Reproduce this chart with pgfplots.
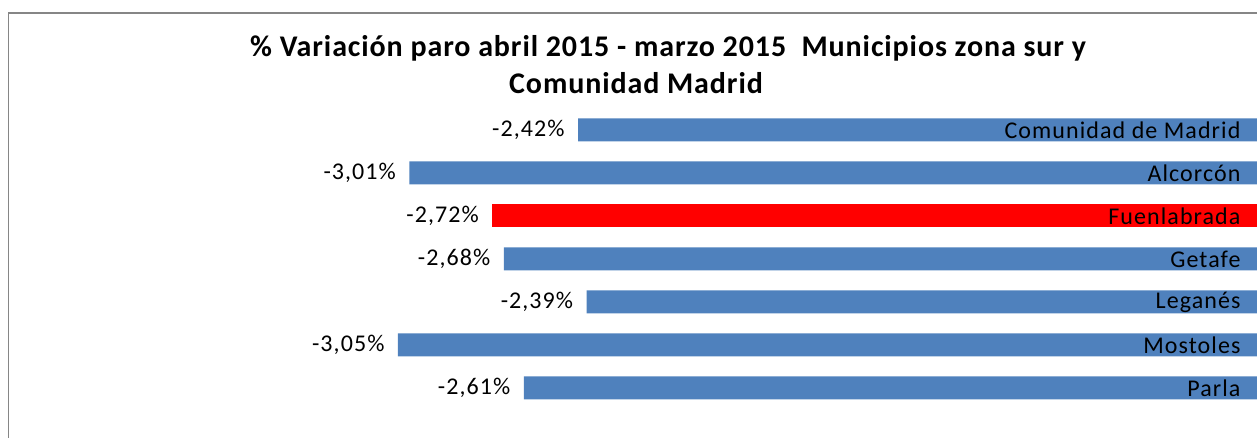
\documentclass[border=0pt]{standalone}
\usepackage{fontspec}
\setmainfont{Carlito}
\newfontfamily\lab[LetterSpace=4.5]{Carlito}
\newfontfamily\ttl[LetterSpace=3]{Carlito}
\usepackage{pgfplots}
\pgfplotsset{compat=1.18}
\usepackage{pgfplotstable}
\definecolor{barblue}{RGB}{79,129,189}
\definecolor{framegray}{RGB}{134,134,134}

\pgfplotstableread{
y x lab
0 -2.42 -2,42
1 -3.01 -3,01
3 -2.68 -2,68
4 -2.39 -2,39
5 -3.05 -3,05
6 -2.61 -2,61
}\blueData
\pgfplotstableread{
y x lab
2 -2.72 -2,72
}\redData

\begin{document}
\begin{tikzpicture}[x=1bp,y=1bp]
\draw[framegray, line width=1.5bp] (8.5,-20) -- (8.5,425) -- (1300,425);
\node[font=\ttl\fontsize{30bp}{36bp}\selectfont\bfseries] at (668,390) {\% Variación paro abril 2015 - marzo 2015\ \ Municipios zona sur y};
\node[font=\ttl\fontsize{30bp}{36bp}\selectfont\bfseries] at (636,355) {Comunidad Madrid};
\begin{axis}[
  at={(12bp,7bp)}, anchor=south west,
  scale only axis, width=1258bp, height=344bp,
  xmin=-4.4, xmax=0, ymin=-1, ymax=7,
  y dir=reverse,
  xbar, bar width=23bp, bar shift=0pt,
  axis line style={draw=none},
  axis on top,
  xtick=\empty,
  ytick={0,1,2,3,4,5,6},
  yticklabels={Comunidad de Madrid,Alcorcón,Fuenlabrada,Getafe,Leganés,Mostoles,Parla},
  major tick length=0pt,
  yticklabel pos=right,
  yticklabel style={anchor=east, xshift=-26bp, font=\lab\fontsize{24bp}{28bp}\selectfont, text=black},
  point meta=explicit symbolic,
  nodes near coords={\pgfplotspointmeta\%},
  nodes near coords style={font=\lab\fontsize{24bp}{28bp}\selectfont, text=black, anchor=east, xshift=-10bp},
  clip=false,
]
\addplot[fill=barblue, draw=none] table[x=x, y=y, meta=lab] {\blueData};
\addplot[fill=red, draw=none] table[x=x, y=y, meta=lab] {\redData};
\end{axis}
\pgfresetboundingbox
\path[use as bounding box] (0,0) rectangle (1257,438);
\end{tikzpicture}
\end{document}
